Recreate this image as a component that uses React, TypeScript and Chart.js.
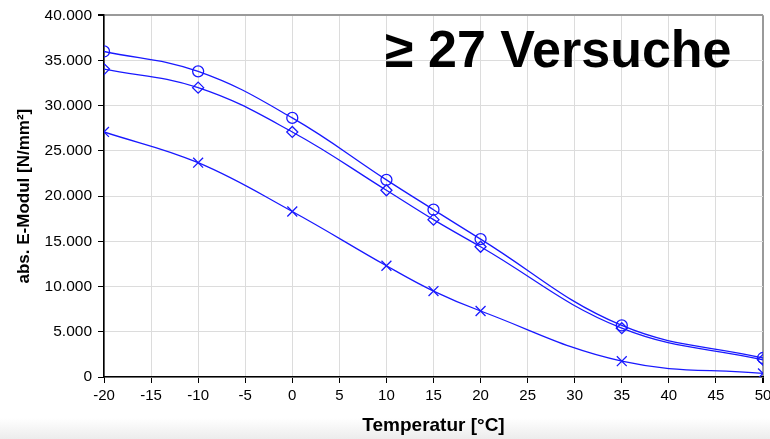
import React, { useEffect, useRef } from "react";
import { Chart, registerables } from "chart.js";

Chart.register(...registerables);

const temperatures = [-20, -10, 0, 10, 15, 20, 35, 50];
const seriesCircle = [36000, 33800, 28650, 21800, 18500, 15250, 5700, 2100];
const seriesDiamond = [34050, 32000, 27100, 20650, 17400, 14400, 5400, 1900];
const seriesCross = [27100, 23700, 18300, 12300, 9500, 7300, 1750, 400];
const xTickStep = 5;
const yTickStep = 5000;
const titleText = "≥ 27 Versuche";
const yTitle = "abs. E-Modul [N/mm²]";
const xTitle = "Temperatur [°C]";

const BLUE = "rgb(25,25,255)";
const FONT = '"Liberation Sans", Arial, sans-serif';

const titlePlugin = {
  id: "bigTitle",
  afterDraw(chart: any) {
    const ctx = chart.ctx;
    ctx.save();
    ctx.font = `bold 52px ${FONT}`;
    ctx.fillStyle = "#000";
    ctx.textAlign = "left";
    ctx.textBaseline = "alphabetic";
    ctx.fillText(titleText, 385, 67);
    ctx.restore();
  },
};

function mk(values: number[]) {
  return temperatures.map((t, i) => ({ x: t, y: values[i] }));
}

export default function App() {
  const ref = useRef<HTMLCanvasElement | null>(null);
  useEffect(() => {
    if (!ref.current) return;
    const common = {
      borderColor: BLUE,
      borderWidth: 1.3,
      pointBorderColor: BLUE,
      pointBackgroundColor: "rgba(0,0,0,0)",
      pointBorderWidth: 1.3,
      pointRadius: 5.5,
      tension: 0.4,
      fill: false,
    };
    const chart = new Chart(ref.current, {
      type: "line",
      data: {
        datasets: [
          { ...common, data: mk(seriesCircle), pointStyle: "circle" },
          { ...common, data: mk(seriesDiamond), pointStyle: "rectRot", pointRadius: 5.5 },
          { ...common, data: mk(seriesCross), pointStyle: "crossRot", pointRadius: 7 },
        ],
      },
      options: {
        animation: false,
        responsive: false,
        devicePixelRatio: 1,
        layout: { padding: { top: 14, right: 17, left: 0, bottom: 0 } },
        plugins: { legend: { display: false }, tooltip: { enabled: false } },
        scales: {
          x: {
            type: "linear",
            min: -20,
            max: 50,
            afterFit: (s: any) => {
              s.height = 62;
            },
            ticks: {
              stepSize: xTickStep,
              font: { family: FONT, size: 15 },
              color: "#000",
              padding: 4,
              maxRotation: 0,
            },
            grid: {
              color: (c: any) => (c.tick && c.tick.value === 50 ? "#9a9a9a" : "#dcdcdc"),
              lineWidth: (c: any) => (c.tick && c.tick.value === 50 ? 2 : 1),
              tickLength: 6,
              tickColor: "#000",
            },
            border: { color: "#000", width: 1.6 },
            title: {
              display: true,
              text: xTitle,
              font: { family: FONT, size: 19, weight: "bold" },
              color: "#000",
              padding: { top: 0, bottom: 2 },
            },
          },
          y: {
            min: 0,
            max: 40000,
            afterFit: (s: any) => {
              s.width = 104;
            },
            ticks: {
              stepSize: yTickStep,
              font: { family: FONT, size: 15.5 },
              color: "#000",
              padding: 6,
              callback: (v: any) => Number(v).toLocaleString("de-DE"),
            },
            grid: {
              color: (c: any) => (c.tick && c.tick.value === 40000 ? "#9a9a9a" : "#dcdcdc"),
              lineWidth: (c: any) => (c.tick && c.tick.value === 40000 ? 2 : 1),
              tickLength: 6,
              tickColor: "#000",
            },
            border: { color: "#000", width: 1.6 },
            title: {
              display: true,
              text: yTitle,
              font: { family: FONT, size: 17, weight: "bold" },
              color: "#000",
              padding: { top: 14, bottom: 0 },
            },
          },
        },
      },
      plugins: [titlePlugin],
    } as any);
    return () => chart.destroy();
  }, []);
  return (
    <div
      style={{
        position: "absolute",
        left: 0,
        top: 0,
        width: 770,
        height: 439,
        overflow: "hidden",
        background: "linear-gradient(to bottom, #ffffff 0px, #ffffff 418px, #ececec 439px)",
      }}
    >
      <canvas ref={ref} width={780} height={439} style={{ display: "block" }} />
    </div>
  );
}
